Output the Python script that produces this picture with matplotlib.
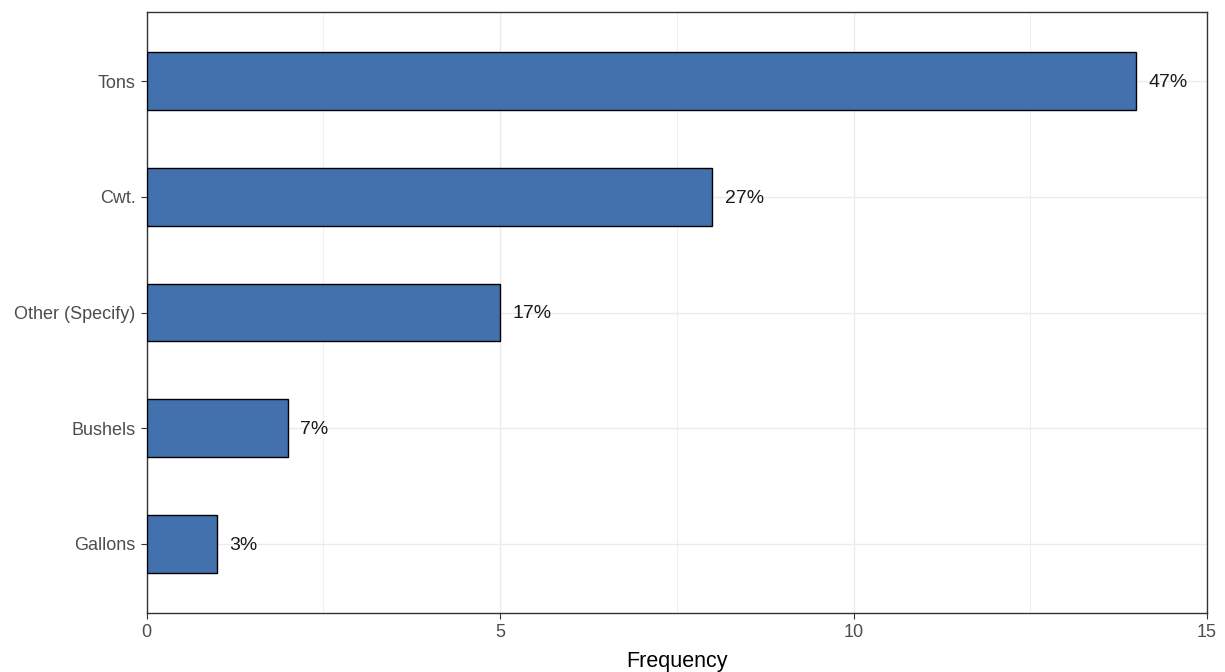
import matplotlib
matplotlib.use("Agg")
import matplotlib.pyplot as plt
from matplotlib.ticker import MultipleLocator

categories = ["Gallons", "Bushels", "Other (Specify)", "Cwt.", "Tons"]
counts = [1, 2, 5, 8, 14]
pct_labels = ["3%", "7%", "17%", "27%", "47%"]

plt.rcParams['font.family'] = ['Liberation Sans', 'DejaVu Sans']

fig = plt.figure(figsize=(12.25, 6.72), dpi=100)
ax = fig.add_axes([146.5/1225, 1-613/672, (1207-146.5)/1225, (613-12)/672])

ypos = list(range(1, len(categories)+1))
ax.barh(ypos, counts, height=0.5, color="#4271AE", edgecolor="black", linewidth=1.0, zorder=3)
for y, v, lab in zip(ypos, counts, pct_labels):
    ax.annotate(lab, (v, y), xytext=(9, -1), textcoords="offset points",
                va="center", ha="left", fontsize=14, color="#1a1a1a", zorder=4)

ax.set_xlim(0, 15)
ax.set_ylim(0.4, 5.6)
ax.set_yticks(ypos)
ax.set_yticklabels(categories)
ax.xaxis.set_major_locator(MultipleLocator(5))
ax.xaxis.set_minor_locator(MultipleLocator(2.5))
ax.grid(True, which="major", color="#EBEBEB", linewidth=1.0, zorder=0)
ax.grid(True, which="minor", axis="x", color="#EFEFEF", linewidth=0.8, zorder=0)
ax.tick_params(which="minor", length=0)
ax.tick_params(which="major", length=4, color="#333333", labelsize=13, labelcolor="#4D4D4D", pad=4)
for s in ax.spines.values():
    s.set_color("#333333")
    s.set_linewidth(1.0)
ax.set_xlabel("Frequency", fontsize=15.5, color="black", labelpad=7)

fig.savefig("out.png", dpi=100)
